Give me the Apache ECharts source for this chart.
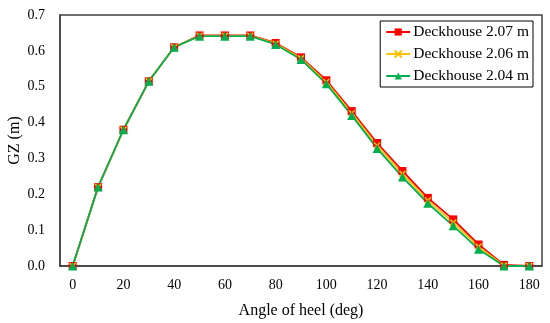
<!DOCTYPE html>
<html><head><meta charset="utf-8">
<script src="https://cdn.jsdelivr.net/npm/echarts@6/dist/echarts.min.js"></script>
<style>html,body{margin:0;padding:0;background:#fff}#c{width:550px;height:323px}</style>
</head><body><div id="c"></div>
<script>
const angles = ['0','10','20','30','40','50','60','70','80','90','100','110','120','130','140','150','160','170','180'];
const gz207 = [0, 0.22, 0.38, 0.515, 0.61, 0.643, 0.643, 0.643, 0.622, 0.582, 0.518, 0.432, 0.343, 0.265, 0.19, 0.13, 0.06, 0.003, 0];
const gz206 = [0, 0.22, 0.38, 0.515, 0.61, 0.642, 0.642, 0.642, 0.62, 0.579, 0.513, 0.426, 0.336, 0.257, 0.183, 0.121, 0.054, 0.001, 0];
const gz204 = [0, 0.22, 0.38, 0.515, 0.61, 0.641, 0.641, 0.641, 0.618, 0.576, 0.508, 0.42, 0.328, 0.248, 0.175, 0.112, 0.047, 0, 0];
const yTicks = ['0.0','0.1','0.2','0.3','0.4','0.5','0.6','0.7'];

const font = 'Liberation Serif';
const crossPath = 'path://M0,0L10,10M10,0L0,10';
const chart = echarts.init(document.getElementById('c'));
chart.setOption({
  animation: false,
  textStyle: {fontFamily: font},
  grid: {left: 60, right: 8, top: 15, bottom: 57, containLabel: false, outerBoundsMode: 'none',
         show: true, borderColor: '#404040', borderWidth: 1.5},
  legend: {
    orient: 'vertical', right: 17, top: 21, padding: [3, 4, 3, 5], itemGap: 6,
    borderColor: '#000', borderWidth: 1, backgroundColor: '#fff',
    itemWidth: 24, itemHeight: 9,
    textStyle: {fontFamily: font, fontSize: 15.5, color: '#000', padding: [0, 0, 0, -2]},
    data: ['Deckhouse 2.07 m', 'Deckhouse 2.06 m', 'Deckhouse 2.04 m']
  },
  xAxis: {
    type: 'category', data: angles, boundaryGap: true,
    name: 'Angle of heel (deg)', nameLocation: 'middle', nameGap: 37, nameMoveOverlap: false,
    nameTextStyle: {fontFamily: font, fontSize: 16, color: '#000'},
    axisLine: {show: true, lineStyle: {color: '#404040', width: 1.5}},
    axisTick: {show: false},
    axisLabel: {interval: 1, fontFamily: font, fontSize: 14, color: '#000', margin: 12},
    splitLine: {show: false}
  },
  yAxis: {
    type: 'value', min: 0, max: 0.7, interval: 0.1,
    name: 'GZ (m)', nameLocation: 'middle', nameGap: 37, nameRotate: 90, nameMoveOverlap: false,
    nameTextStyle: {fontFamily: font, fontSize: 16, color: '#000'},
    axisLine: {show: true, lineStyle: {color: '#404040', width: 1.5}},
    axisTick: {show: false},
    axisLabel: {fontFamily: font, fontSize: 14, color: '#000', margin: 15,
      formatter: v => yTicks[Math.round(v * 10)]},
    splitLine: {show: false}
  },
  series: [
    {name: 'Deckhouse 2.07 m', type: 'line', data: gz207, symbol: 'rect', symbolSize: 8,
     itemStyle: {color: '#ff0000'}, lineStyle: {color: '#ff0000', width: 1.8}},
    {name: 'Deckhouse 2.06 m', type: 'line', data: gz206, symbol: crossPath, symbolSize: 6,
     itemStyle: {color: '#ffc000', borderColor: '#ffc000', borderWidth: 1.5}, lineStyle: {color: '#ffc000', width: 1.8}},
    {name: 'Deckhouse 2.04 m', type: 'line', data: gz204, symbol: 'triangle', symbolSize: 9,
     itemStyle: {color: '#00b050'}, lineStyle: {color: '#00b050', width: 1.8}}
  ]
});
</script></body></html>
